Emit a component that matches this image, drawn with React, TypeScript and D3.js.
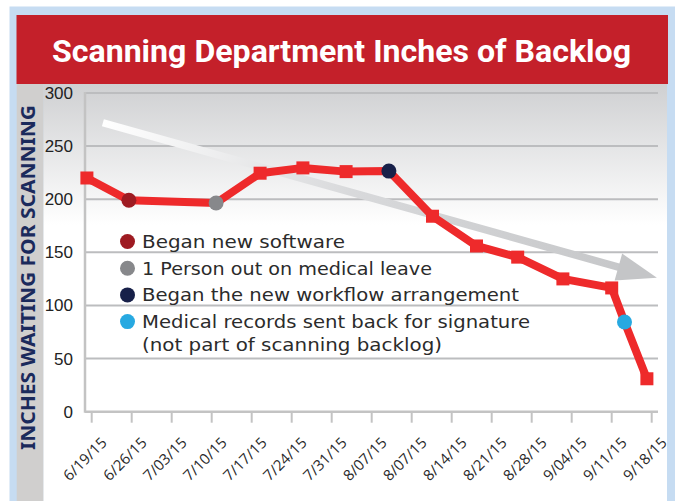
import React from 'react';
import * as d3 from 'd3';

// week labels along the bottom (the chart repeats 8/07/15)
const tickLabels = [
  '6/19/15', '6/26/15', '7/03/15', '7/10/15', '7/17/15', '7/24/15', '7/31/15', '8/07/15',
  '8/07/15', '8/14/15', '8/21/15', '8/28/15', '9/04/15', '9/11/15', '9/18/15',
];
// where each reading sits, measured in tick slots
const pointPos = [-0.12, 0.93, 3.11, 4.21, 5.28, 6.36, 7.43, 8.52, 9.62, 10.65, 11.78, 13.0, 13.32, 13.88];
const backlog = [220, 199, 196.5, 224.5, 229.5, 226, 226.5, 184, 156, 145.5, 125, 116.5, 84.5, 31];
const pointKind = [
  'square', 'software', 'leave', 'square', 'square', 'square', 'workflow',
  'square', 'square', 'square', 'square', 'square', 'records', 'square',
];
const yTicks = [0, 50, 100, 150, 200, 250, 300];

const legendKinds = ['software', 'leave', 'workflow', 'records'];
const legendLabels = [
  'Began new software',
  '1 Person out on medical leave',
  'Began the new workflow arrangement',
  'Medical records sent back for signature',
];
const legendNote = '(not part of scanning backlog)';
const legendWidths = [203, 290, 377, 388];

// trend arrow: [slot, value] at tail and tip
const trendTail = [0.28, 272];
const trendTip = [14.13, 126];

const kindColor: Record<string, string> = {
  software: '#9e1b22',
  leave: '#87888b',
  workflow: '#172049',
  records: '#27a9e1',
};

const W = 675;
const H = 501;

const App = () => {
  const x = d3.scaleLinear().domain([0, 14]).range([91.7, 651.7]);
  const y = d3.scaleLinear().domain([0, 300]).range([411.7, 93]);
  const plotLeft = 85;
  const plotRight = 658;

  const pts = backlog.map((v, i) => ({ x: x(pointPos[i]), y: y(v), kind: pointKind[i] }));
  const path = d3
    .line<{ x: number; y: number }>()
    .x((d) => d.x)
    .y((d) => d.y)(pts);

  // arrow geometry
  const ax0 = x(trendTail[0]);
  const ay0 = y(trendTail[1]);
  const ax1 = x(trendTip[0]);
  const ay1 = y(trendTip[1]);
  const len = Math.hypot(ax1 - ax0, ay1 - ay0);
  const ux = (ax1 - ax0) / len;
  const uy = (ay1 - ay0) / len;
  const headLen = 40;
  const headHalf = 14;
  const bx = ax1 - ux * headLen;
  const by = ay1 - uy * headLen;
  const head = `M${ax1},${ay1}L${bx - uy * headHalf},${by + ux * headHalf}L${bx + uy * headHalf},${by - ux * headHalf}Z`;

  const legendY = (i: number) => 241.5 + i * 26.7;

  return (
    <svg width={W} height={H} style={{ position: 'absolute', left: 0, top: 0 }}>
      <defs>
        <linearGradient id="plotBg" x1="0" y1="84" x2="0" y2="225" gradientUnits="userSpaceOnUse">
          <stop offset="0" stopColor="#cfd0d2" />
          <stop offset="1" stopColor="#ffffff" />
        </linearGradient>
        <linearGradient id="trendFill" x1={ax0} y1={ay0} x2={ax1} y2={ay1} gradientUnits="userSpaceOnUse">
          <stop offset="0" stopColor="#ffffff" />
          <stop offset="0.45" stopColor="#d8d9db" />
          <stop offset="1" stopColor="#c4c5c7" />
        </linearGradient>
      </defs>

      <rect x={0} y={0} width={W} height={H} fill="#ffffff" />
      <rect x={9.5} y={6.5} width={W - 9.5} height={H - 6.5} fill="#c6dcf2" />
      <rect x={16.7} y={84} width={27} height={H - 84} fill="#d0cfce" />
      <rect x={43.5} y={84} width={623.5} height={H - 84} fill="url(#plotBg)" />
      <rect x={16.5} y={15} width={651.5} height={69} fill="#c4202a" />
      <text
        x={341.5}
        y={62}
        textAnchor="middle"
        fill="#ffffff"
        fontFamily="Roboto, 'Noto Sans', sans-serif"
        fontWeight={700}
        fontSize={31}
        textLength={579}
        lengthAdjust="spacingAndGlyphs"
      >
        Scanning Department Inches of Backlog
      </text>

      {/* grid */}
      {yTicks.slice(1).map((t) => (
        <line key={t} x1={plotLeft} x2={plotRight} y1={y(t)} y2={y(t)} stroke="#bcbdbf" strokeWidth={2} />
      ))}
      {yTicks.map((t) => (
        <text
          key={t}
          x={73}
          y={y(t) + 6}
          textAnchor="end"
          fill="#222"
          fontFamily="'Liberation Sans Narrow', 'Arial Narrow', sans-serif"
          fontSize={17}
        >
          {t}
        </text>
      ))}
      <line x1={plotLeft} x2={plotLeft} y1={y(300) - 1} y2={y(0) + 1} stroke="#c3c3c3" strokeWidth={2.5} />
      <line x1={plotLeft} x2={plotRight} y1={y(0)} y2={y(0)} stroke="#c3c3c3" strokeWidth={2.5} />
      {tickLabels.map((lab, i) => (
        <g key={i}>
          <line x1={x(i)} x2={x(i)} y1={y(0)} y2={y(0) + 11} stroke="#c3c3c3" strokeWidth={2} />
          <text
            transform={`translate(${x(i) + 16},${y(0) + 32}) rotate(-45)`}
            textAnchor="end"
            fill="#2a2a2a"
            fontFamily="'Open Sans', sans-serif"
            fontSize={15}
          >
            {lab}
          </text>
        </g>
      ))}

      <text
        transform={`translate(34.5,277.5) rotate(-90)`}
        textAnchor="middle"
        fill="#1b2a5c"
        fontFamily="'Noto Sans', sans-serif"
        fontWeight={700}
        fontSize={20}
        textLength={345}
        lengthAdjust="spacingAndGlyphs"
      >
        INCHES WAITING FOR SCANNING
      </text>

      {/* trend arrow */}
      <line x1={ax0} y1={ay0} x2={bx + ux * 2} y2={by + uy * 2} stroke="url(#trendFill)" strokeWidth={7.5} />
      <path d={head} fill="#c4c5c7" />

      {/* series */}
      <path d={path ?? ''} fill="none" stroke="#ee2a2b" strokeWidth={8} strokeLinejoin="round" />
      {pts.map((p, i) =>
        p.kind === 'square' ? (
          <rect key={i} x={p.x - 6.5} y={p.y - 6.5} width={13} height={13} fill="#ee2a2b" />
        ) : (
          <circle key={i} cx={p.x} cy={p.y} r={7.5} fill={kindColor[p.kind]} />
        ),
      )}

      {/* legend */}
      {legendKinds.map((k, i) => (
        <g key={k}>
          <circle cx={127.5} cy={legendY(i)} r={7.5} fill={kindColor[k]} />
          <text
            x={142}
            y={legendY(i) + 6.5}
            fill="#2b2b2b"
            fontFamily="'DejaVu Sans', sans-serif"
            fontSize={18.5}
            textLength={legendWidths[i]}
            lengthAdjust="spacingAndGlyphs"
          >
            {legendLabels[i]}
          </text>
        </g>
      ))}
      <text
        x={142}
        y={legendY(3) + 6.5 + 22.5}
        fill="#2b2b2b"
        fontFamily="'DejaVu Sans', sans-serif"
        fontSize={18.5}
        textLength={300}
        lengthAdjust="spacingAndGlyphs"
      >
        {legendNote}
      </text>
    </svg>
  );
};

export default App;
